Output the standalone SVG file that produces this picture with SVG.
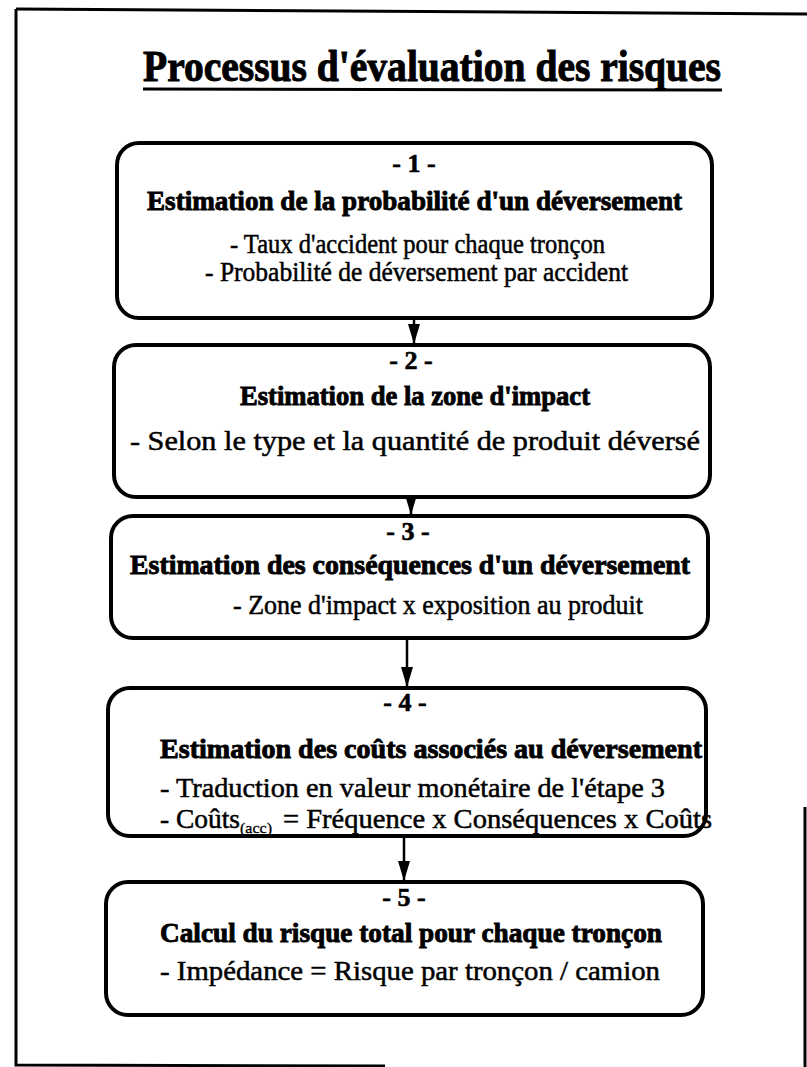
<svg xmlns="http://www.w3.org/2000/svg" width="807" height="1067" viewBox="0 0 807 1067">
<style>
.frame{fill:none;stroke:#000;stroke-width:3}
.box{fill:#fff;stroke:#000;stroke-width:4}
.num{font-family:"Liberation Serif",serif;font-weight:bold;font-size:26px;text-anchor:middle;stroke:#000;stroke-width:0.6}
.head{font-family:"Liberation Serif",serif;font-weight:bold;font-size:28px;stroke:#000;stroke-width:0.9}
.item{font-family:"Liberation Serif",serif;font-size:27px;stroke:#000;stroke-width:0.5}
.sub{font-family:"Liberation Serif",serif;font-size:15px;stroke:#000;stroke-width:0.3}
.title{font-family:"Liberation Serif",serif;font-weight:bold;font-size:45px;stroke:#000;stroke-width:1}
.conn{stroke:#000;stroke-width:2.5;fill:none}
</style>
<defs>
<marker id="ah" markerWidth="20" markerHeight="12" refX="20" refY="6" orient="auto" markerUnits="userSpaceOnUse" viewBox="0 0 20 12">
<path d="M0,0 L20,6 L0,12 Z" fill="#000"/>
</marker>
</defs>
<rect width="807" height="1067" fill="#fff"/>
<g id="frame">
<path class="frame" d="M16,9 L807,14"/>
<path class="frame" d="M16,9 L16,1065 L385,1066"/>
<path class="frame" d="M805,807 L805,1067"/>
</g>
<g id="title">
<text class="title" x="143" y="81" textLength="578" lengthAdjust="spacingAndGlyphs">Processus d'évaluation des risques</text>
<line x1="143" y1="89" x2="722" y2="90" stroke="#000" stroke-width="3"/>
</g>
<g id="connectors">
<line class="conn" x1="414" y1="318" x2="414" y2="344" marker-end="url(#ah)"/>
<line class="conn" x1="411" y1="497" x2="411" y2="515" marker-end="url(#ah)"/>
<line class="conn" x1="407" y1="638" x2="407" y2="687" marker-end="url(#ah)"/>
<line class="conn" x1="404" y1="836" x2="404" y2="881" marker-end="url(#ah)"/>
</g>
<g id="step1">
<rect class="box" x="117" y="143" width="595" height="175" rx="22"/>
<text class="num" x="414" y="172">- 1 -</text>
<text class="head" x="147" y="210" textLength="535" lengthAdjust="spacingAndGlyphs">Estimation de la probabilité d'un déversement</text>
<text class="item" x="230" y="253" textLength="375" lengthAdjust="spacingAndGlyphs">- Taux d'accident pour chaque tronçon</text>
<text class="item" x="205" y="281" textLength="423" lengthAdjust="spacingAndGlyphs">- Probabilité de déversement par accident</text>
</g>
<g id="step2">
<rect class="box" x="114" y="345" width="596" height="152" rx="22"/>
<text class="num" x="411" y="369">- 2 -</text>
<text class="head" x="240" y="405" textLength="350" lengthAdjust="spacingAndGlyphs">Estimation de la zone d'impact</text>
<text class="item" x="130" y="450" textLength="570" lengthAdjust="spacingAndGlyphs">- Selon le type et la quantité de produit déversé</text>
</g>
<g id="step3">
<rect class="box" x="111" y="516" width="597" height="122" rx="22"/>
<text class="num" x="408" y="540">- 3 -</text>
<text class="head" x="130" y="574" textLength="560" lengthAdjust="spacingAndGlyphs">Estimation des conséquences d'un déversement</text>
<text class="item" x="233" y="614" textLength="410" lengthAdjust="spacingAndGlyphs">- Zone d'impact x exposition au produit</text>
</g>
<g id="step4">
<rect class="box" x="108" y="688" width="598" height="148" rx="22"/>
<text class="num" x="405" y="711">- 4 -</text>
<text class="head" x="160" y="758" textLength="542" lengthAdjust="spacingAndGlyphs">Estimation des coûts associés au déversement</text>
<text class="item" x="160" y="797" textLength="505" lengthAdjust="spacingAndGlyphs">- Traduction en valeur monétaire de l'étape 3</text>
<text class="item" x="160" y="828" textLength="80" lengthAdjust="spacingAndGlyphs">- Coûts</text>
<text class="sub" x="240" y="833" textLength="32" lengthAdjust="spacingAndGlyphs">(acc)</text>
<text class="item" x="283" y="828" textLength="429" lengthAdjust="spacingAndGlyphs">=  Fréquence x Conséquences x Coûts</text>
</g>
<g id="step5">
<rect class="box" x="106" y="882" width="597" height="133" rx="22"/>
<text class="num" x="404" y="906">- 5 -</text>
<text class="head" x="160" y="942" textLength="502" lengthAdjust="spacingAndGlyphs">Calcul du risque total pour chaque tronçon</text>
<text class="item" x="160" y="980" textLength="500" lengthAdjust="spacingAndGlyphs">- Impédance =  Risque par tronçon / camion</text>
</g>
</svg>
